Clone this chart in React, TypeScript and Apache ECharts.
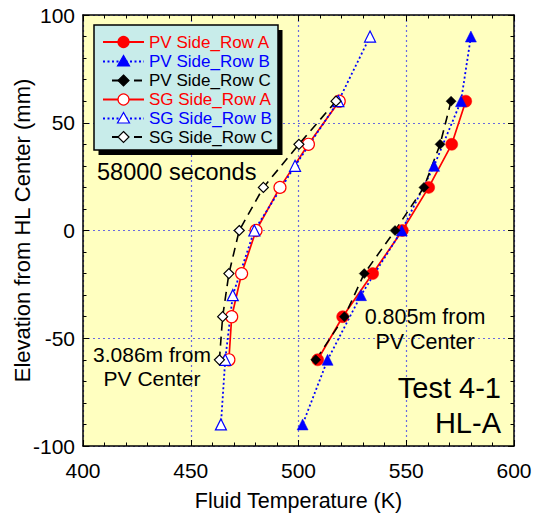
import React, { useEffect, useRef } from "react";
import * as echarts from "echarts";

// ---- data ----
const elevRowA = [60, 40, 20, 0, -20, -40, -60];
const elevRowB = [90, 60, 30, 0, -30, -60, -90];
const elevRowC = [60, 40, 20, 0, -20, -40, -60];

const pvRowA = [577.6, 571.1, 560.4, 548.2, 534.4, 520.5, 508.9];
const pvRowB = [580.0, 575.4, 562.9, 547.9, 529.0, 513.5, 501.9];
const pvRowC = [570.8, 565.7, 558.2, 544.8, 530.5, 521.3, 508.0];
const sgRowA = [518.9, 504.6, 491.4, 480.3, 473.6, 469.0, 467.7];
const sgRowB = [533.2, 518.5, 498.4, 479.5, 469.5, 466.0, 464.0];
const sgRowC = [517.4, 500.2, 483.7, 472.5, 467.7, 464.8, 463.3];

const seriesNames = [
  "PV Side_Row A",
  "PV Side_Row B",
  "PV Side_Row C",
  "SG Side_Row A",
  "SG Side_Row B",
  "SG Side_Row C",
];

const xTicks = { min: 400, max: 600, interval: 50 };
const yTicks = { min: -100, max: 100, interval: 50 };

const FONT = "'Liberation Sans', Arial, Helvetica, sans-serif";
const RED = "#ff0000";
const BLUE = "#0000ff";
const BLACK = "#000000";

function pairs(xs: number[], ys: number[]) {
  return xs.map((x, i) => [x, ys[i]]);
}

type Spec = {
  name: string;
  xs: number[];
  ys: number[];
  color: string;
  symbol: string;
  size: number;
  open: boolean;
  dash: any;
  width: number;
};

const specs: Spec[] = [
  { name: seriesNames[0], xs: pvRowA, ys: elevRowA, color: RED, symbol: "circle", size: 12, open: false, dash: "solid", width: 1.7 },
  { name: seriesNames[1], xs: pvRowB, ys: elevRowB, color: BLUE, symbol: "triangle", size: 11, open: false, dash: [2, 2.5], width: 1.8 },
  { name: seriesNames[2], xs: pvRowC, ys: elevRowC, color: BLACK, symbol: "diamond", size: 11, open: false, dash: [9, 6], width: 1.6 },
  { name: seriesNames[3], xs: sgRowA, ys: elevRowA, color: RED, symbol: "circle", size: 12, open: true, dash: "solid", width: 1.7 },
  { name: seriesNames[4], xs: sgRowB, ys: elevRowB, color: BLUE, symbol: "triangle", size: 11, open: true, dash: [2, 2.5], width: 1.8 },
  { name: seriesNames[5], xs: sgRowC, ys: elevRowC, color: BLACK, symbol: "diamond", size: 11, open: true, dash: [9, 6], width: 1.6 },
];

function legendGraphics() {
  const els: any[] = [];
  els.push({ type: "rect", shape: { x: 98.5, y: 30, width: 184, height: 125 }, style: { fill: "#000" }, z: 50 });
  els.push({ type: "rect", shape: { x: 94, y: 25, width: 184, height: 125 }, style: { fill: "#c8ecea", stroke: "#000", lineWidth: 1.5 }, z: 51 });
  const rows = [42, 61.5, 80.5, 99.5, 118.5, 137];
  specs.forEach((s, i) => {
    const cy = rows[i];
    const cx = 123.5;
    const lineDash = s.dash === "solid" ? null : s.dash;
    if (s.symbol === "diamond") {
      els.push({ type: "line", shape: { x1: 112, y1: cy, x2: 119, y2: cy }, style: { stroke: s.color, lineWidth: 2 }, z: 52 });
      els.push({ type: "line", shape: { x1: 134, y1: cy, x2: 142, y2: cy }, style: { stroke: s.color, lineWidth: 2 }, z: 52 });
    } else {
      els.push({ type: "line", shape: { x1: 103, y1: cy, x2: 144, y2: cy }, style: { stroke: s.color, lineWidth: s.width + 0.3, lineDash }, z: 52 });
    }
    const mstyle = { fill: s.open ? "#fff" : s.color, stroke: s.color, lineWidth: 1.2 };
    if (s.symbol === "circle") {
      els.push({ type: "circle", shape: { cx, cy, r: 5.5 }, style: mstyle, z: 53 });
    } else if (s.symbol === "triangle") {
      els.push({ type: "polygon", shape: { points: [[cx, cy - 6], [cx - 6, cy + 4.5], [cx + 6, cy + 4.5]] }, style: mstyle, z: 53 });
    } else {
      els.push({ type: "polygon", shape: { points: [[cx, cy - 5.5], [cx + 5.5, cy], [cx, cy + 5.5], [cx - 5.5, cy]] }, style: mstyle, z: 53 });
    }
    els.push({
      type: "text",
      x: 149,
      y: cy,
      style: { text: s.name, fill: s.color, fontSize: 17, fontFamily: FONT, textAlign: "left", align: "left", textVerticalAlign: "middle", verticalAlign: "middle" },
      z: 53,
    });
  });
  return els;
}

function label(text: string, x: number, y: number, size: number, align: string) {
  return {
    type: "text",
    x,
    y,
    style: { text, fill: "#000", fontSize: size, fontFamily: FONT, textAlign: align, align, textVerticalAlign: "middle", verticalAlign: "middle" },
    z: 40,
  };
}

export default function App() {
  const ref = useRef<HTMLDivElement>(null);
  useEffect(() => {
    if (!ref.current) return;
    const chart = echarts.init(ref.current, undefined, { renderer: "svg" });
    const axisLineStyle = { color: "#000", width: 1.5 };
    const tickCommon = {
      axisTick: { show: true, inside: true, length: 6, lineStyle: { color: "#000", width: 1 } },
      minorTick: { show: true, splitNumber: 5, length: 3.5, lineStyle: { color: "#000", width: 1 } },
    };
    const splitLine = { show: true, lineStyle: { color: "#6a6ae0", type: [2, 3], width: 1.2 } };
    const option: any = {
      animation: false,
      backgroundColor: "#ffffff",
      grid: {
        left: 83,
        top: 15,
        width: 431,
        height: 431,
        show: true,
        backgroundColor: "#ffffc0",
        borderWidth: 0,
        containLabel: false,
        outerBoundsMode: "none",
      },
      xAxis: [
        {
          type: "value",
          ...xTicks,
          position: "bottom",
          axisLine: { show: true, onZero: false, lineStyle: axisLineStyle },
          ...tickCommon,
          splitLine,
          axisLabel: { fontSize: 21, color: "#000", fontFamily: FONT, margin: 14 },
          name: "Fluid Temperature (K)",
          nameLocation: "middle",
          nameGap: 44,
          nameMoveOverlap: false,
          nameTextStyle: { fontSize: 21.5, color: "#000", fontFamily: FONT },
        },
        {
          type: "value",
          ...xTicks,
          position: "top",
          axisLine: { show: true, onZero: false, lineStyle: axisLineStyle },
          ...tickCommon,
          splitLine: { show: false },
          axisLabel: { show: false },
        },
      ],
      yAxis: [
        {
          type: "value",
          ...yTicks,
          position: "left",
          axisLine: { show: true, onZero: false, lineStyle: axisLineStyle },
          ...tickCommon,
          splitLine,
          axisLabel: { fontSize: 21, color: "#000", fontFamily: FONT, margin: 8 },
          name: "Elevation from HL Center (mm)",
          nameLocation: "middle",
          nameGap: 50,
          nameMoveOverlap: false,
          nameTextStyle: { fontSize: 22, color: "#000", fontFamily: FONT },
        },
        {
          type: "value",
          ...yTicks,
          position: "right",
          axisLine: { show: true, onZero: false, lineStyle: axisLineStyle },
          ...tickCommon,
          splitLine: { show: false },
          axisLabel: { show: false },
        },
      ],
      series: specs.map((s) => ({
        type: "line",
        name: s.name,
        xAxisIndex: 0,
        yAxisIndex: 0,
        data: pairs(s.xs, s.ys),
        symbol: s.symbol,
        symbolSize: s.symbol === "diamond" ? 10 : s.size,
        showSymbol: true,
        lineStyle: { color: s.color, width: s.width, type: s.dash },
        itemStyle: { color: s.open ? "#ffffff" : s.color, borderColor: s.color, borderWidth: s.open ? 1.2 : 0.5, opacity: 1 },
        emphasis: { disabled: true },
        silent: true,
        z: 3,
      })),
      graphic: [
        ...legendGraphics(),
        label("58000 seconds", 97, 172, 23.5, "left"),
        label("3.086m from", 152, 354, 21, "center"),
        label("PV Center", 152, 378, 21, "center"),
        label("0.805m from", 425, 317, 21.5, "center"),
        label("PV Center", 425, 342, 21.5, "center"),
        label("Test 4-1", 501, 388, 29, "right"),
        label("HL-A", 501, 423, 29, "right"),
      ],
    };
    chart.setOption(option);
    return () => chart.dispose();
  }, []);
  return (
    <div
      ref={ref}
      style={{ position: "fixed", left: 0, top: 0, width: 534, height: 515, background: "#fff" }}
    />
  );
}
